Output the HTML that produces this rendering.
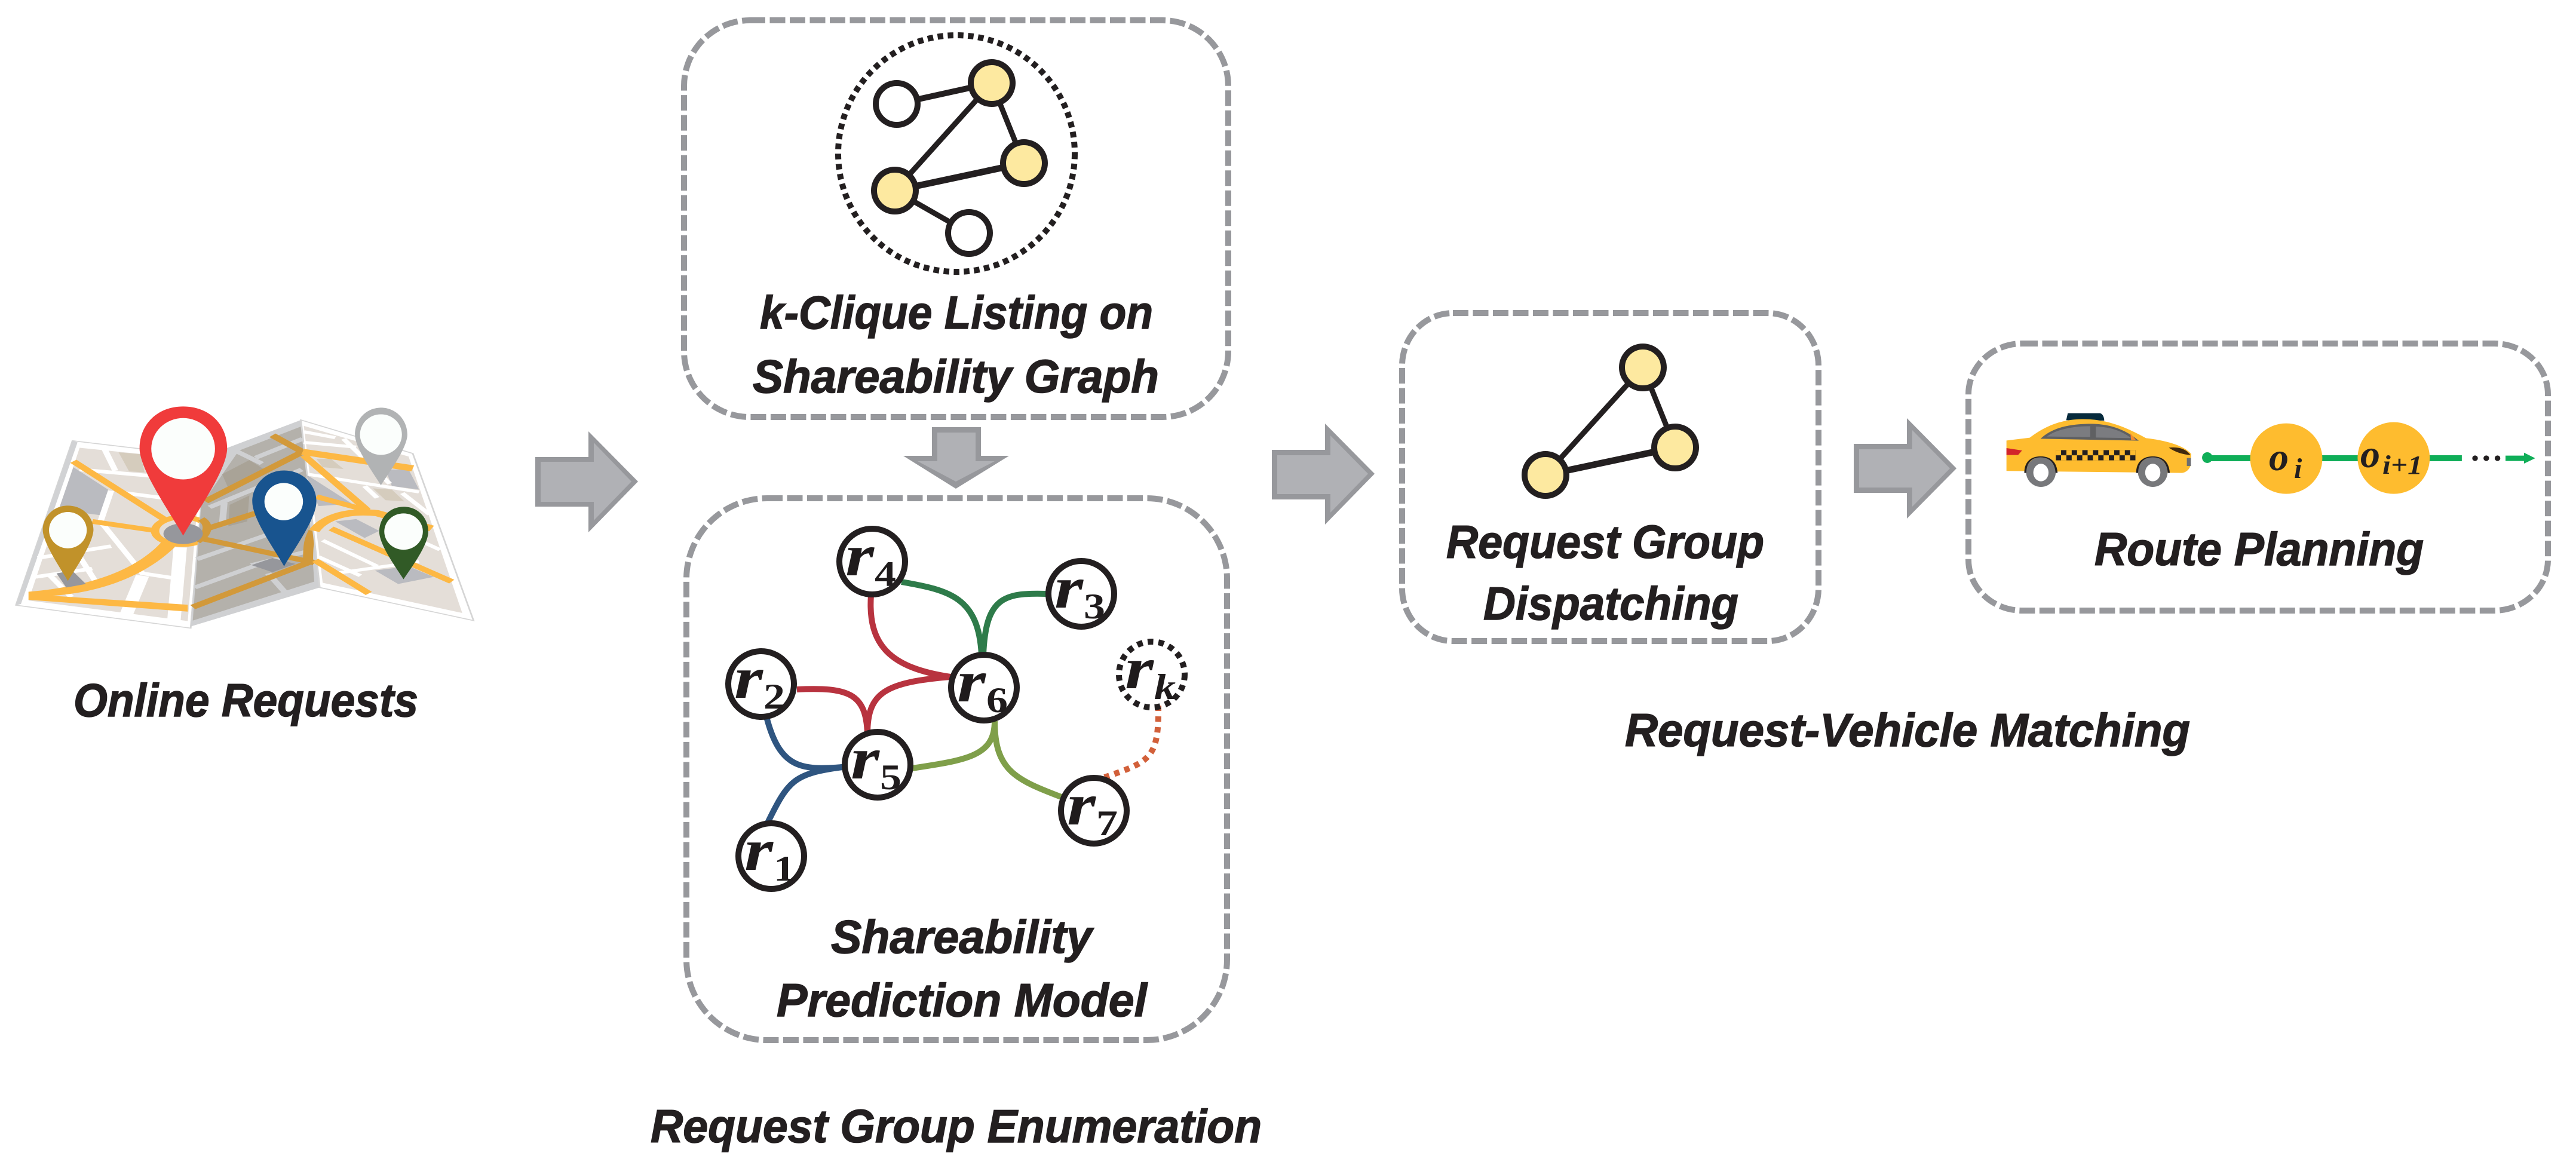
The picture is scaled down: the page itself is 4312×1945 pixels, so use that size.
<!DOCTYPE html>
<html><head><meta charset="utf-8"><style>
html,body{margin:0;padding:0;background:#fff}
svg{display:block}
.t{font-family:"Liberation Sans",sans-serif;font-weight:bold;font-style:italic;font-size:78px;fill:#231f20;stroke:#231f20;stroke-width:1.5px}
.r{font-family:"Liberation Serif",serif;font-weight:bold;font-style:italic;font-size:100px;fill:#1f1b1c}
.s{font-family:"Liberation Serif",serif;font-weight:bold;font-size:60px;fill:#1f1b1c}
.box{fill:none;stroke:#97989c;stroke-width:10;stroke-dasharray:26 7.5}
.n{stroke:#231f20;stroke-width:10;fill:#fff}
.y{fill:#fde9a0}
.e{stroke:#231f20;stroke-width:10;fill:none}
.c{fill:none;stroke-width:10}
.w{stroke:#fff;fill:none}
.o{stroke:#fdb844;fill:none}
.d{stroke:#d2993a;fill:none}
.g{stroke:#cfd0d2;fill:none}
</style></head><body>
<svg xmlns="http://www.w3.org/2000/svg" width="4312" height="1945" viewBox="0 0 4312 1945">
<rect width="4312" height="1945" fill="#fff"/>

<!-- MAP -->
<g transform="translate(0,620) scale(0.7015,0.395)">
 <polygon points="173,298 490,365 455,1092 38,995" fill="#fff" stroke="#d5d5d5" stroke-width="4"/>
 <polygon points="173,298 185,305 50,990 38,995" fill="#d1d2d4"/>
 <polygon points="190,328 480,380 448,1062 68,975" fill="#e4ded8"/>
 <polygon points="175,410 258,505 245,615 140,590" fill="#babbc0"/>
 <polygon points="283,347 335,355 345,432 308,428" fill="#d5ccbd"/>
 <g class="w" stroke-width="15">
  <path d="M250,335 L275,425"/><path d="M190,420 L475,465"/><path d="M265,510 L240,640 L340,860 L415,880"/>
  <path d="M300,520 L475,560"/><path d="M90,795 L265,745"/><path d="M85,875 L220,840"/><path d="M120,870 L170,960"/>
  <path d="M190,790 L230,900"/><path d="M340,870 L300,1040" stroke-width="32"/><path d="M430,750 L415,1060" stroke-width="32"/>
 </g>
 <g class="o" stroke-width="20">
  <path d="M175,385 L400,640"/><path d="M220,640 L375,680"/><ellipse cx="435" cy="680" rx="65" ry="58"/>
 </g>
 <path d="M68,938 C200,918 320,858 388,722 L418,747 C340,882 230,942 125,955 L448,993 L448,1022 L68,972Z" fill="#fdb844"/>

 <polygon points="540,330 718,210 763,920 455,1085 478,600" fill="#cfd0d2"/>
 <polygon points="570,340 722,235 750,895 460,1060 480,570" fill="#b4b1ab"/>
 <polygon points="530,440 595,380 640,430 545,500" fill="#a9a397"/>
 <polygon points="548,570 595,530 590,640 545,660" fill="#a9a397"/>
 <g class="g" stroke-width="16">
  <path d="M550,330 L625,395"/><path d="M610,370 L722,290"/><path d="M535,560 L530,660"/>
  <path d="M470,800 L730,640"/><path d="M465,920 L620,820"/><path d="M600,825 L750,760"/><path d="M640,860 L680,940"/>
  <path d="M500,580 L720,420"/>
 </g>
 <polygon points="600,825 650,795 705,820 650,855" fill="#96979c"/>
 <g class="d" stroke-width="21">
  <path d="M490,555 L722,345"/><path d="M495,670 L610,605"/><path d="M475,710 L750,815"/><path d="M460,1003 L750,805"/><path d="M650,275 L722,345"/>
  <path d="M748,680 C735,720 735,760 735,815" stroke-width="24"/>
  <path d="M480,630 C500,650 500,690 470,725"/>
 </g>

 <polygon points="718,210 985,352 1130,1060 763,920" fill="#fff" stroke="#d5d5d5" stroke-width="4"/>
 <polygon points="725,235 975,365 1103,1028 770,900" fill="#e4ded8"/>
 <polygon points="920,420 975,420 1000,505 935,490" fill="#babbc0"/>
 <polygon points="730,440 840,565 760,575" fill="#babbc0"/>
 <polygon points="800,640 850,630 905,680 870,710" fill="#babbc0"/>
 <polygon points="895,848 975,830 1035,875 950,905" fill="#babbc0"/>
 <polygon points="890,500 935,505 965,555 920,550" fill="#d5ccbd"/>
 <polygon points="755,375 790,375 820,418 770,410" fill="#d5ccbd"/>
 <g class="w" stroke-width="13">
  <path d="M725,260 L800,285"/><path d="M725,305 L850,325"/><path d="M820,290 L930,480"/><path d="M735,440 L1000,515"/>
  <path d="M870,490 L900,540"/><path d="M960,520 L1025,610"/><path d="M770,720 L900,830"/><path d="M760,790 L860,870" />
  <path d="M800,860 L1000,810"/><path d="M1000,720 L1050,760"/>
 </g>
 <g class="o" stroke-width="20">
  <path d="M722,345 L985,415" stroke-width="26"/><path d="M725,360 L875,590"/><path d="M755,535 L880,595"/>
  <path d="M750,680 C770,630 820,590 900,605 L1030,670" stroke-width="26"/><path d="M790,670 L1078,895"/><path d="M752,805 L880,945"/>
 </g>

 <ellipse cx="437" cy="692" rx="47" ry="44" fill="#96979c"/>
 <polygon points="135,860 172,848 205,905 158,920" fill="#96979c"/>

 <path d="M437,153 C500,153 542,230 542,330 C542,420 470,600 437,700 C405,600 333,420 333,330 C333,230 375,153 437,153Z" fill="#f03b3b"/>
 <ellipse cx="437" cy="332" rx="76" ry="130" fill="#fbfefc"/>
 <path d="M678,424 C725,424 755,490 755,555 C755,630 700,760 678,830 C656,760 602,630 602,555 C602,490 632,424 678,424Z" fill="#18548f"/>
 <ellipse cx="677" cy="556" rx="46" ry="79" fill="#fbfefc"/>
 <path d="M162,573 C200,573 223,625 223,675 C223,730 180,840 162,892 C145,840 102,730 102,675 C102,625 125,573 162,573Z" fill="#c1922a"/>
 <ellipse cx="162" cy="677" rx="45" ry="77" fill="#fbfefc"/>
 <path d="M909,158 C945,158 972,210 972,272 C972,330 925,440 909,487 C893,440 847,330 847,272 C847,210 873,158 909,158Z" fill="#b1b3b4"/>
 <ellipse cx="909" cy="272" rx="50" ry="86" fill="#fbfefc"/>
 <path d="M963,578 C1000,578 1022,630 1022,683 C1022,740 980,840 963,885 C947,840 905,740 905,683 C905,630 927,578 963,578Z" fill="#315a26"/>
 <ellipse cx="963" cy="683" rx="46" ry="77" fill="#fbfefc"/>
</g>
<text class="t" x="123" y="1199" textLength="577" lengthAdjust="spacingAndGlyphs">Online Requests</text>

<!-- ARROWS -->
<polygon points="896,765 985,765 985,722 1068,806 985,891 985,848 896,848" fill="#97989c"/>
<polygon points="905,773 994,773 994,741 1057,806 994,871 994,840 905,840" fill="#b0b1b5"/>
<polygon points="2129,753 2218,753 2218,709 2301,793 2218,878 2218,836 2129,836" fill="#97989c"/>
<polygon points="2138,762 2227,762 2227,729 2290,793 2227,858 2227,827 2138,827" fill="#b0b1b5"/>
<polygon points="3103,743 3192,743 3192,700 3275,784 3192,868 3192,825 3103,825" fill="#97989c"/>
<polygon points="3112,752 3201,752 3201,720 3264,784 3201,848 3201,816 3112,816" fill="#b0b1b5"/>
<polygon points="1560,715 1642,715 1642,763 1689,763 1600,818 1512,763 1560,763" fill="#97989c"/>
<polygon points="1569,724 1633,724 1633,772 1665,772 1600,806 1536,772 1569,772" fill="#b0b1b5"/>

<!-- BOXES -->
<rect class="box" x="1145" y="34" width="911" height="664" rx="110" ry="110"/>
<rect class="box" x="1149" y="834" width="905" height="907" rx="135" ry="135"/>
<rect class="box" x="2347" y="524" width="697" height="549" rx="85" ry="88"/>
<rect class="box" x="3295" y="575" width="970" height="447" rx="90" ry="85"/>

<!-- k-clique -->
<ellipse cx="1601" cy="257" rx="198" ry="198" fill="none" stroke="#231f20" stroke-width="10" stroke-dasharray="9.5 7.5"/>
<g class="e">
 <path d="M1501,174 L1660,139"/><path d="M1660,139 L1498,319" stroke-width="9"/><path d="M1660,139 L1714,273" stroke-width="9"/>
 <path d="M1498,319 L1714,273" stroke-width="11"/><path d="M1498,319 L1622,390" stroke-width="9"/>
</g>
<circle class="n" cx="1501" cy="174" r="35"/>
<circle class="n y" cx="1660" cy="139" r="35"/>
<circle class="n y" cx="1714" cy="273" r="35"/>
<circle class="n y" cx="1498" cy="319" r="35"/>
<circle class="n" cx="1622" cy="390" r="35"/>
<text class="t" x="1272" y="550" textLength="658" lengthAdjust="spacingAndGlyphs">k-Clique Listing on</text>
<text class="t" x="1260" y="657" textLength="680" lengthAdjust="spacingAndGlyphs">Shareability Graph</text>

<!-- Shareability graph -->
<g class="c">
 <path d="M1458,996 C1452,1080 1490,1118 1591,1133" stroke="#b8333f"/>
 <path d="M1334,1154 C1420,1150 1450,1160 1452,1229" stroke="#b8333f"/>
 <path d="M1452,1229 C1452,1160 1480,1142 1591,1133" stroke="#b8333f"/>
 <path d="M1509,974 C1590,988 1638,1000 1643,1096" stroke="#2e7b4a"/>
 <path d="M1751,994 C1680,992 1650,1000 1646,1096" stroke="#2e7b4a"/>
 <path d="M1283,1200 C1305,1285 1340,1290 1410,1284" stroke="#2f5580"/>
 <path d="M1285,1377 C1320,1305 1330,1295 1410,1284" stroke="#2f5580"/>
 <path d="M1527,1286 C1620,1272 1665,1265 1665,1207" stroke="#7f9f4a"/>
 <path d="M1665,1207 C1665,1290 1700,1305 1779,1335" stroke="#7f9f4a"/>
 <path d="M1939,1181 C1940,1270 1925,1275 1849,1301" stroke="#d2603a" stroke-dasharray="9 9"/>
</g>
<g fill="none" stroke="#231f20" stroke-width="10">
 <circle cx="1460" cy="940" r="55"/><circle cx="1810" cy="994" r="55"/><circle cx="1274" cy="1145" r="55"/>
 <circle cx="1647" cy="1151" r="55"/><circle cx="1469" cy="1280" r="55"/><circle cx="1831" cy="1357" r="55"/>
 <circle cx="1291" cy="1433" r="55"/><circle cx="1928" cy="1129" r="55" stroke-dasharray="9.5 8.5"/>
</g>
<g>
<text class="r" x="1415" y="963" textLength="48" lengthAdjust="spacingAndGlyphs">r</text><text class="s" x="1464" y="981" textLength="36" lengthAdjust="spacingAndGlyphs">4</text>
<text class="r" x="1765" y="1017" textLength="48" lengthAdjust="spacingAndGlyphs">r</text><text class="s" x="1814" y="1035" textLength="36" lengthAdjust="spacingAndGlyphs">3</text>
<text class="r" x="1229" y="1168" textLength="48" lengthAdjust="spacingAndGlyphs">r</text><text class="s" x="1278" y="1186" textLength="36" lengthAdjust="spacingAndGlyphs">2</text>
<text class="r" x="1602" y="1174" textLength="48" lengthAdjust="spacingAndGlyphs">r</text><text class="s" x="1651" y="1192" textLength="36" lengthAdjust="spacingAndGlyphs">6</text>
<text class="r" x="1424" y="1303" textLength="48" lengthAdjust="spacingAndGlyphs">r</text><text class="s" x="1473" y="1321" textLength="36" lengthAdjust="spacingAndGlyphs">5</text>
<text class="r" x="1786" y="1380" textLength="48" lengthAdjust="spacingAndGlyphs">r</text><text class="s" x="1835" y="1398" textLength="36" lengthAdjust="spacingAndGlyphs">7</text>
<text class="r" x="1246" y="1456" textLength="48" lengthAdjust="spacingAndGlyphs">r</text><text class="s" x="1295" y="1474" textLength="36" lengthAdjust="spacingAndGlyphs">1</text>
<text class="r" x="1883" y="1152" textLength="48" lengthAdjust="spacingAndGlyphs">r</text><text class="s" x="1932" y="1170" style="font-style:italic" textLength="36" lengthAdjust="spacingAndGlyphs">k</text>
</g>
<text class="t" x="1391" y="1595" textLength="437" lengthAdjust="spacingAndGlyphs">Shareability</text>
<text class="t" x="1300" y="1701" textLength="620" lengthAdjust="spacingAndGlyphs">Prediction Model</text>
<text class="t" x="1089" y="1912" textLength="1023" lengthAdjust="spacingAndGlyphs">Request Group Enumeration</text>

<!-- Dispatching -->
<g class="e">
 <path d="M2750,615 L2587,795" stroke-width="9"/><path d="M2750,615 L2804,749" stroke-width="9"/><path d="M2587,795 L2804,749" stroke-width="11"/>
</g>
<circle class="n y" cx="2750" cy="615" r="35"/>
<circle class="n y" cx="2804" cy="749" r="35"/>
<circle class="n y" cx="2587" cy="795" r="35"/>
<text class="t" x="2421" y="934" textLength="532" lengthAdjust="spacingAndGlyphs">Request Group</text>
<text class="t" x="2483" y="1037" textLength="427" lengthAdjust="spacingAndGlyphs">Dispatching</text>
<text class="t" x="2720" y="1249" textLength="946" lengthAdjust="spacingAndGlyphs">Request-Vehicle Matching</text>

<!-- TAXI + ROUTE -->
<defs>
 <pattern id="chk" x="270" y="580" width="53" height="52" patternUnits="userSpaceOnUse">
  <rect x="0" y="26" width="13.25" height="26" fill="#231f20"/><rect x="13.25" y="0" width="13.25" height="26" fill="#231f20"/>
  <rect x="26.5" y="26" width="13.25" height="26" fill="#231f20"/><rect x="39.75" y="0" width="13.25" height="26" fill="#231f20"/>
 </pattern>
</defs>
<g transform="translate(3260,560) scale(0.671,0.3333)">
 <path d="M296,430 L300,395 L380,395 Q390,400 391,432 Z" fill="#062a3c"/>
 <path d="M147,532 L205,518 C250,450 290,425 340,425 C400,425 450,470 495,520 C540,530 590,555 608,600 L606,660 Q600,690 585,695 L147,685 Z" fill="#febc2f"/>
 <path d="M232,523 C260,470 300,448 360,448 C410,450 445,480 477,533 Z" fill="#5f6062"/>
 <path d="M248,512 C270,478 310,460 356,460 L356,515 Z" fill="#7b7c80"/>
 <path d="M370,462 C410,465 435,485 458,520 L370,517 Z" fill="#7b7c80"/>
 <polygon points="456,495 470,530 458,530" fill="#f58a2b"/>
 <rect x="270" y="580" width="199" height="52" fill="url(#chk)"/>
 <polygon points="147,570 186,582 176,605 147,605" fill="#d2232a"/>
 <path d="M552,568 Q590,560 606,605 Q575,600 552,568Z" fill="#40290f"/>
 <rect x="597" y="620" width="10" height="40" fill="#6d6e71"/>
 <ellipse cx="233" cy="690" rx="37" ry="75" fill="#77787b"/>
 <ellipse cx="233" cy="693" rx="19" ry="44" fill="#fff"/>
 <path d="M194,695 C194,640 210,614 232,614 C255,614 270,640 272,695" fill="none" stroke="#231f20" stroke-width="5"/>
 <ellipse cx="512" cy="690" rx="37" ry="75" fill="#77787b"/>
 <ellipse cx="512" cy="693" rx="19" ry="44" fill="#fff"/>
 <path d="M473,695 C473,640 490,614 512,614 C535,614 550,640 552,695" fill="none" stroke="#231f20" stroke-width="5"/>

 <ellipse cx="648" cy="618" rx="13" ry="27" fill="#0fae58"/>
 <rect x="648" y="606" width="635" height="30" fill="#0fae58"/>
 <ellipse cx="845" cy="623" rx="90" ry="177" fill="#febc2f"/>
 <ellipse cx="1113" cy="620" rx="90" ry="180" fill="#febc2f"/>
 <ellipse cx="1316" cy="621" rx="7" ry="14" fill="#231f20"/>
 <ellipse cx="1344" cy="621" rx="7" ry="14" fill="#231f20"/>
 <ellipse cx="1372" cy="621" rx="7" ry="14" fill="#231f20"/>
 <polygon points="1392,608 1438,608 1438,593 1466,621 1438,648 1438,635 1392,635" fill="#0fae58"/>
</g>
<text x="3798" y="787" font-family="Liberation Serif, serif" font-weight="bold" font-style="italic" font-size="66" fill="#231f20">o</text>
<text x="3840" y="800" font-family="Liberation Serif, serif" font-weight="bold" font-style="italic" font-size="48" fill="#231f20">i</text>
<text x="3951" y="782" font-family="Liberation Serif, serif" font-weight="bold" font-style="italic" font-size="66" fill="#231f20">o</text>
<text x="3988" y="793" font-family="Liberation Serif, serif" font-weight="bold" font-style="italic" font-size="44" fill="#231f20" textLength="67" lengthAdjust="spacingAndGlyphs">i+1</text>
<text class="t" x="3506" y="946" textLength="551" lengthAdjust="spacingAndGlyphs">Route Planning</text>
</svg>
</body></html>
